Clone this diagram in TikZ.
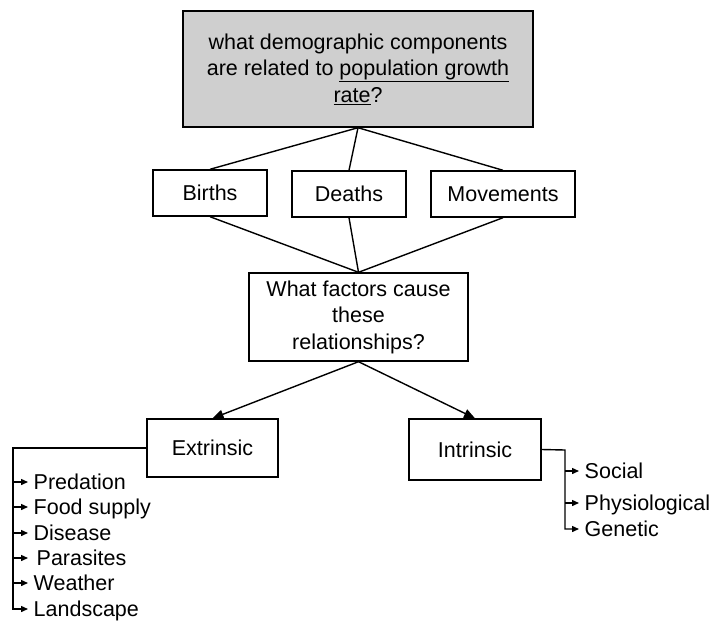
\documentclass[tikz,border=0pt]{standalone}
\usepackage{fontspec}
\setmainfont{Liberation Sans}
\usetikzlibrary{arrows.meta}

\begin{document}
\begin{tikzpicture}[x=1pt, y=-1pt, line width=1.4pt,
  every node/.style={align=center, font=\fontsize{21.5}{26.5}\selectfont},
  qbox/.style={rectangle, draw, inner sep=0pt},
  item/.style={anchor=west, inner xsep=5pt, inner ysep=0pt, text height=15pt, text depth=0pt},
  bigarrow/.style={-{Triangle[length=11pt, width=9pt]}},
  smallarrow/.style={-{Triangle[length=7pt, width=6pt]}}]
\useasboundingbox (0,0) rectangle (711,623);
\node (question) [qbox, fill=black!19, minimum width=350pt, minimum height=116pt] at (358,69) {what demographic components\\ are related to \underline{population growth}\\ \underline{rate}?};
\node (births) [qbox, minimum width=114pt, minimum height=46pt] at (210,193) {Births};
\node (deaths) [qbox, minimum width=114pt, minimum height=46pt] at (349,194) {Deaths};
\node (moves) [qbox, minimum width=144pt, minimum height=46pt] at (503,194) {Movements};
\node (factors) [qbox, minimum width=219pt, minimum height=88pt] at (358.5,317) {What factors cause\\ these\\ relationships?};
\node (extr) [qbox, minimum width=131pt, minimum height=58pt] at (212.5,448) {Extrinsic};
\node (intr) [qbox, minimum width=132pt, minimum height=61pt] at (475,449.5) {Intrinsic};
\draw (question.south) -- (births.north);
\draw (question.south) -- (deaths.north);
\draw (question.south) -- (moves.north);
\draw (births.south) -- (factors.north);
\draw (deaths.south) -- (factors.north);
\draw (moves.south) -- (factors.north);
\draw[bigarrow] (factors.south) -- (extr.north);
\draw[bigarrow] (factors.south) -- (intr.north);
\node (predation) [item] at (28,482) {Predation};
\node (food) [item] at (28,507) {Food supply};
\node (disease) [item] at (28,533) {Disease};
\node (parasites) [item, inner xsep=8pt] at (28,558) {Parasites};
\node (weather) [item] at (28,583) {Weather};
\node (landscape) [item] at (28,609) {Landscape};
\coordinate (extbus) at (13,448);
\draw[smallarrow] (extr.west) -- (extbus) |- (landscape.west);
\foreach \n in {predation, food, disease, parasites, weather}
  \draw[smallarrow] (extbus |- \n.west) -- (\n.west);
\node (social) [item] at (579,471) {Social};
\node (physio) [item] at (579,503) {Physiological};
\node (genetic) [item] at (579,529) {Genetic};
\coordinate (intbus) at (565,450);
\draw[smallarrow] (intr.east) -- (intbus) |- (genetic.west);
\foreach \n in {social, physio}
  \draw[smallarrow] (intbus |- \n.west) -- (\n.west);
\end{tikzpicture}
\end{document}
